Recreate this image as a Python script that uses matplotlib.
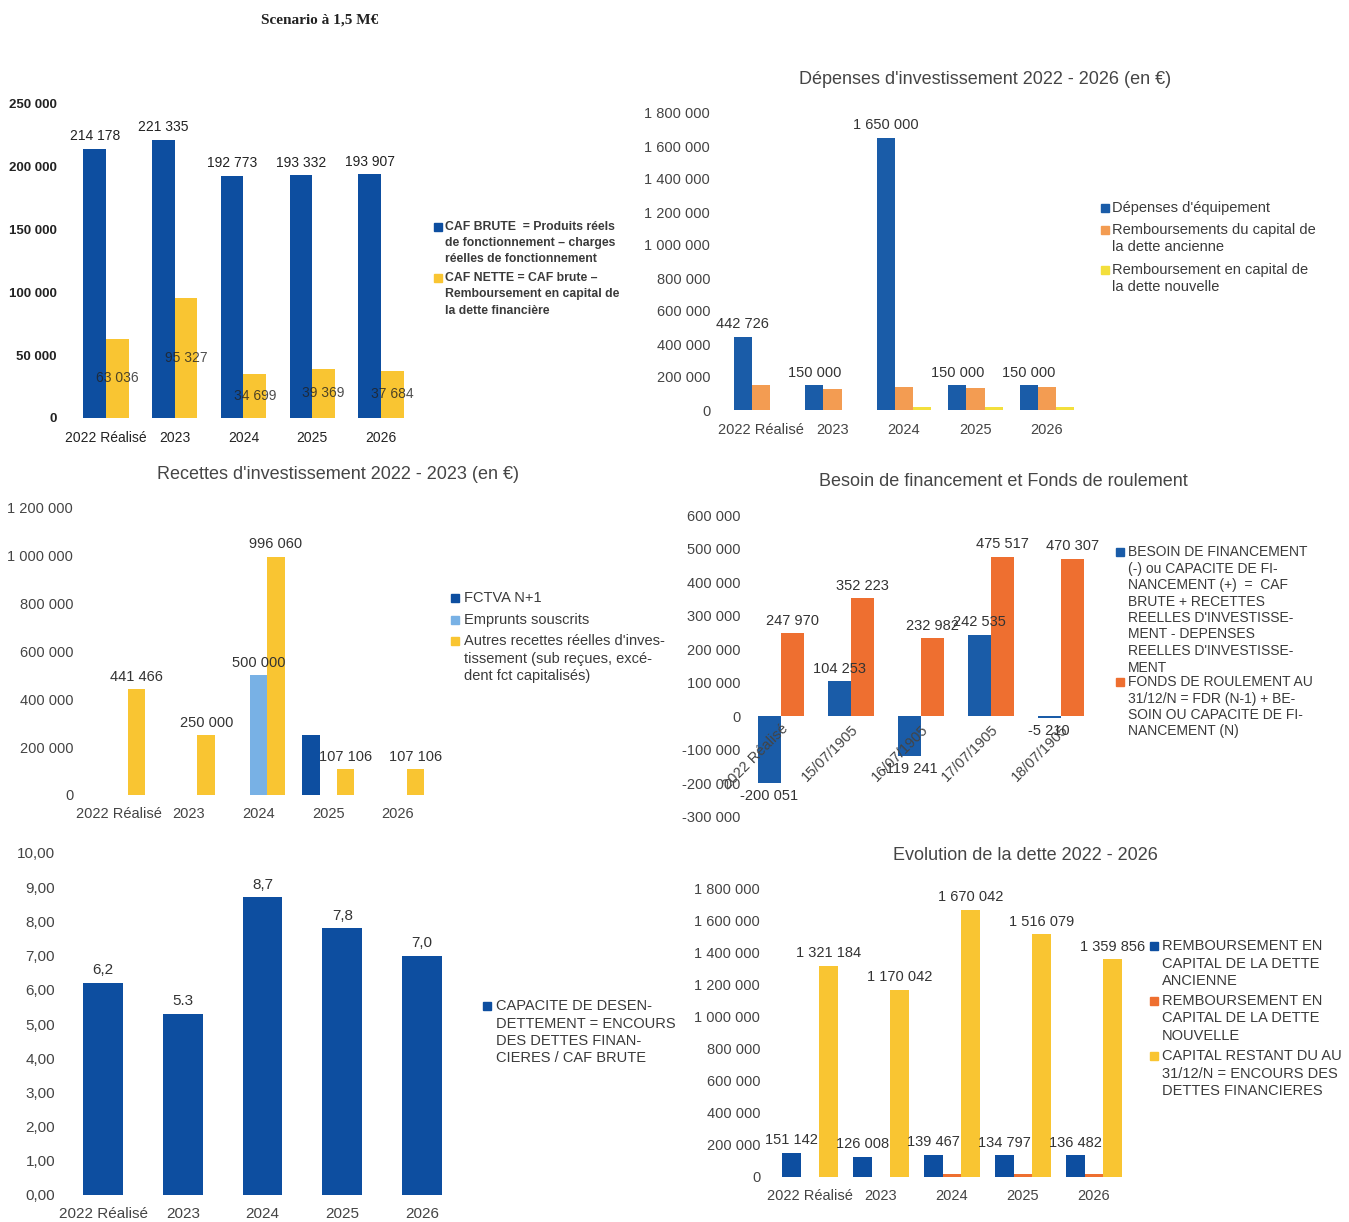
import matplotlib
matplotlib.use("Agg")
import matplotlib.pyplot as plt
from matplotlib.patches import Rectangle
from matplotlib.ticker import FuncFormatter

plt.rcParams['font.family'] = ['Liberation Sans', 'DejaVu Sans']

W, H = 1349, 1222
DPI = 100

# ---------------- DATA ----------------
years = ["2022 Réalisé", "2023", "2024", "2025", "2026"]
years_besoin = ["2022 Réalisé", "15/07/1905", "16/07/1905", "17/07/1905", "18/07/1905"]

caf_brute = [214178, 221335, 192773, 193332, 193907]
caf_nette = [63036, 95327, 34699, 39369, 37684]

dep_equipement = [442726, 150000, 1650000, 150000, 150000]
remb_ancienne = [151142, 126008, 139467, 134797, 136482]
remb_nouvelle = [0, 0, 19000, 19166, 19741]

fctva = [0, 0, 0, 250000, 0]
emprunts = [0, 0, 500000, 0, 0]
autres_recettes = [441466, 250000, 996060, 107106, 107106]

besoin = [-200051, 104253, -119241, 242535, -5210]
fdr = [247970, 352223, 232982, 475517, 470307]

capacite = [6.2, 5.3, 8.7, 7.8, 7.0]
capacite_labels = ["6,2", "5.3", "8,7", "7,8", "7,0"]

capital_restant = [1321184, 1170042, 1670042, 1516079, 1359856]

# ---------------- COLOURS ----------------
BLUE = "#0d4ea0"
BLUE2 = "#1a5ca8"
YELLOW = "#f9c532"
ORANGE_L = "#f39c52"
YELLOW2 = "#f3df3c"
LIGHTBLUE = "#78b1e5"
ORANGE = "#ee6f30"
TXT = "#3a3a3a"

fig = plt.figure(figsize=(W / DPI, H / DPI), dpi=DPI)
fig.patch.set_facecolor("white")


def fmt(v):
    return f"{int(round(v)):,}".replace(",", " ")


def make_ax(left, top, right, bottom, c0, step, ylim):
    ax = fig.add_axes([left / W, 1 - bottom / H, (right - left) / W, (bottom - top) / H])
    ax.set_xlim((left - c0) / step, (right - c0) / step)
    ax.set_ylim(*ylim)
    for s in ax.spines.values():
        s.set_visible(False)
    ax.tick_params(length=0)
    ax.set_facecolor("none")
    return ax


def legend(x, entries, fs, weight="normal", sq=8, tx=None):
    if tx is None:
        tx = x + 11
    for color, lines, y0, dy in entries:
        fig.patches.append(Rectangle((x / W, 1 - (y0 + sq / 2) / H), sq / W, sq / H,
                                     transform=fig.transFigure, color=color))
        for i, ln in enumerate(lines):
            fig.text(tx / W, 1 - (y0 + i * dy) / H, ln, fontsize=fs, color=TXT,
                     fontweight=weight, va="center", ha="left")


def title(x, y, s, fs=13):
    fig.text(x / W, 1 - y / H, s, fontsize=fs, color="#454545", ha="center", va="center")


xs = list(range(len(years)))
thousands = FuncFormatter(lambda v, p: fmt(v))

# Main title
fig.text(320 / W, 1 - 20 / H, "Scenario à 1,5 M€", fontsize=11, fontweight="bold",
         family="Liberation Serif", ha="center", va="center", color="#222222")

# ---------------- Panel 1 : CAF ----------------
ax1 = make_ax(65, 104, 412, 418, 106, 68.75, (0, 250000))
w = 0.33
b1 = ax1.bar([x - w / 2 for x in xs], caf_brute, w, color=BLUE)
b2 = ax1.bar([x + w / 2 for x in xs], caf_nette, w, color=YELLOW)
ax1.bar_label(b1, labels=[fmt(v) for v in caf_brute], padding=4, fontsize=10, color="#222")
ax1.bar_label(b2, labels=[fmt(v) for v in caf_nette], label_type="center", fontsize=10,
              color="#222", alpha=0.8)
ax1.set_yticks(range(0, 250001, 50000))
ax1.yaxis.set_major_formatter(thousands)
ax1.set_xticks(xs, years)
ax1.tick_params(axis="y", labelsize=9.5, labelcolor="#222", pad=6)
ax1.tick_params(axis="x", labelsize=10, labelcolor="#222", pad=9)
for t in ax1.get_yticklabels():
    t.set_fontweight("bold")
legend(434, [(BLUE, ["CAF BRUTE  = Produits réels", "de fonctionnement – charges",
                     "réelles de fonctionnement"], 227, 16),
             (YELLOW, ["CAF NETTE = CAF brute –", "Remboursement en capital de",
                       "la dette financière"], 278, 16.5)], 8.8, weight="bold")

# ---------------- Panel 2 : Dépenses ----------------
ax2 = make_ax(715, 113, 1085, 410, 761, 71.5, (0, 1800000))
w = 0.255
d1 = ax2.bar([x - w for x in xs], dep_equipement, w, color=BLUE2)
ax2.bar(xs, remb_ancienne, w, color=ORANGE_L)
ax2.bar([x + w for x in xs], remb_nouvelle, w, color=YELLOW2)
ax2.bar_label(d1, labels=[fmt(v) for v in dep_equipement], padding=4, fontsize=10.5, color="#333")
ax2.set_yticks(range(0, 1800001, 200000))
ax2.yaxis.set_major_formatter(thousands)
ax2.set_xticks(xs, years)
ax2.tick_params(axis="both", labelsize=10.5, labelcolor="#444")
ax2.tick_params(axis="x", pad=9)
title(985, 80, "Dépenses d'investissement 2022 - 2026 (en €)")
legend(1101, [(BLUE2, ["Dépenses d'équipement"], 208, 17),
              (ORANGE_L, ["Remboursements du capital de", "la dette ancienne"], 230, 17),
              (YELLOW2, ["Remboursement en capital de", "la dette nouvelle"], 270, 17)], 10.5)

# ---------------- Panel 3 : Recettes ----------------
ax3 = make_ax(78, 508, 440, 795, 119, 69.75, (0, 1200000))
w = 0.25
ax3.bar([x - w for x in xs], fctva, w, color=BLUE)
r2 = ax3.bar(xs, emprunts, w, color=LIGHTBLUE)
r3 = ax3.bar([x + w for x in xs], autres_recettes, w, color=YELLOW)
ax3.bar_label(r2, labels=[fmt(v) if v else "" for v in emprunts], padding=4, fontsize=10.5, color="#333")
ax3.bar_label(r3, labels=[fmt(v) if v else "" for v in autres_recettes], padding=4, fontsize=10.5,
              color="#333")
ax3.set_yticks(range(0, 1200001, 200000))
ax3.yaxis.set_major_formatter(thousands)
ax3.set_xticks(xs, years)
ax3.tick_params(axis="both", labelsize=10.5, labelcolor="#444")
ax3.tick_params(axis="x", pad=9)
title(338, 475, "Recettes d'investissement 2022 - 2023 (en €)")
legend(451, [(BLUE, ["FCTVA N+1"], 598, 17),
             (LIGHTBLUE, ["Emprunts souscrits"], 620, 17),
             (YELLOW, ["Autres recettes réelles d'inves-", "tissement (sub reçues, excé-",
                       "dent fct capitalisés)"], 641, 17.5)], 10.5, tx=464)

# ---------------- Panel 4 : Besoin de financement ----------------
ax4 = make_ax(745, 515, 1100, 817, 781, 70, (-300000, 600000))
w = 0.335
f1 = ax4.bar([x - w / 2 for x in xs], besoin, w, color=BLUE2)
f2 = ax4.bar([x + w / 2 for x in xs], fdr, w, color=ORANGE)
ax4.bar_label(f1, labels=[fmt(v) for v in besoin], padding=4, fontsize=10.5, color="#333")
ax4.bar_label(f2, labels=[fmt(v) for v in fdr], padding=4, fontsize=10.5, color="#333")
ax4.set_yticks(range(-300000, 600001, 100000))
ax4.yaxis.set_major_formatter(thousands)
ax4.spines["bottom"].set_position(("data", 0))
ax4.set_xticks(xs)
ax4.set_xticklabels(years_besoin, rotation=45, ha="right", va="top", rotation_mode="anchor")
ax4.tick_params(axis="both", labelsize=10.5, labelcolor="#444")
ax4.tick_params(axis="x", pad=4)
title(1003, 482, "Besoin de financement et Fonds de roulement")
l1 = ["BESOIN DE FINANCEMENT", "(-) ou CAPACITE DE FI-", "NANCEMENT (+)  =  CAF",
      "BRUTE + RECETTES", "REELLES D'INVESTISSE-", "MENT - DEPENSES",
      "REELLES D'INVESTISSE-", "MENT"]
l2 = ["FONDS DE ROULEMENT AU", "31/12/N = FDR (N-1) + BE-", "SOIN OU CAPACITE DE FI-",
      "NANCEMENT (N)"]
legend(1116, [(BLUE2, l1, 552, 16.5), (ORANGE, l2, 682, 16.5)], 10, tx=1128)

# ---------------- Panel 5 : Capacité de désendettement ----------------
ax5 = make_ax(60, 853, 455, 1195, 103, 79.75, (0, 10))
c1 = ax5.bar(xs, capacite, 0.5, color=BLUE)
ax5.bar_label(c1, labels=capacite_labels, padding=4, fontsize=11, color="#333")
ax5.set_yticks(range(0, 11))
ax5.yaxis.set_major_formatter(FuncFormatter(lambda v, p: f"{v:.2f}".replace(".", ",")))
ax5.set_xticks(xs, years)
ax5.tick_params(axis="both", labelsize=11, labelcolor="#444")
ax5.tick_params(axis="x", pad=9)
legend(483, [(BLUE, ["CAPACITE DE DESEN-", "DETTEMENT = ENCOURS", "DES DETTES FINAN-",
                     "CIERES / CAF BRUTE"], 1006, 17.5)], 10.5, tx=496)

# ---------------- Panel 6 : Evolution de la dette ----------------
ax6 = make_ax(765, 889, 1135, 1177, 810, 71, (0, 1800000))
w = 0.26
e1 = ax6.bar([x - w for x in xs], remb_ancienne, w, color=BLUE)
ax6.bar(xs, remb_nouvelle, w, color=ORANGE)
e3 = ax6.bar([x + w for x in xs], capital_restant, w, color=YELLOW)
ax6.bar_label(e1, labels=[fmt(v) for v in remb_ancienne], padding=4, fontsize=10.5, color="#333")
ax6.bar_label(e3, labels=[fmt(v) for v in capital_restant], padding=4, fontsize=10.5, color="#333")
ax6.set_yticks(range(0, 1800001, 200000))
ax6.yaxis.set_major_formatter(thousands)
ax6.set_xticks(xs, years)
ax6.tick_params(axis="both", labelsize=10.5, labelcolor="#444")
ax6.tick_params(axis="x", pad=9)
title(1025, 856, "Evolution de la dette 2022 - 2026")
legend(1150, [(BLUE, ["REMBOURSEMENT EN", "CAPITAL DE LA DETTE", "ANCIENNE"], 946, 17.5),
              (ORANGE, ["REMBOURSEMENT EN", "CAPITAL DE LA DETTE", "NOUVELLE"], 1001, 17.5),
              (YELLOW, ["CAPITAL RESTANT DU AU", "31/12/N = ENCOURS DES",
                        "DETTES FINANCIERES"], 1056, 17.5)], 10.5, tx=1162)

fig.savefig("out.png", dpi=DPI, facecolor="white")
